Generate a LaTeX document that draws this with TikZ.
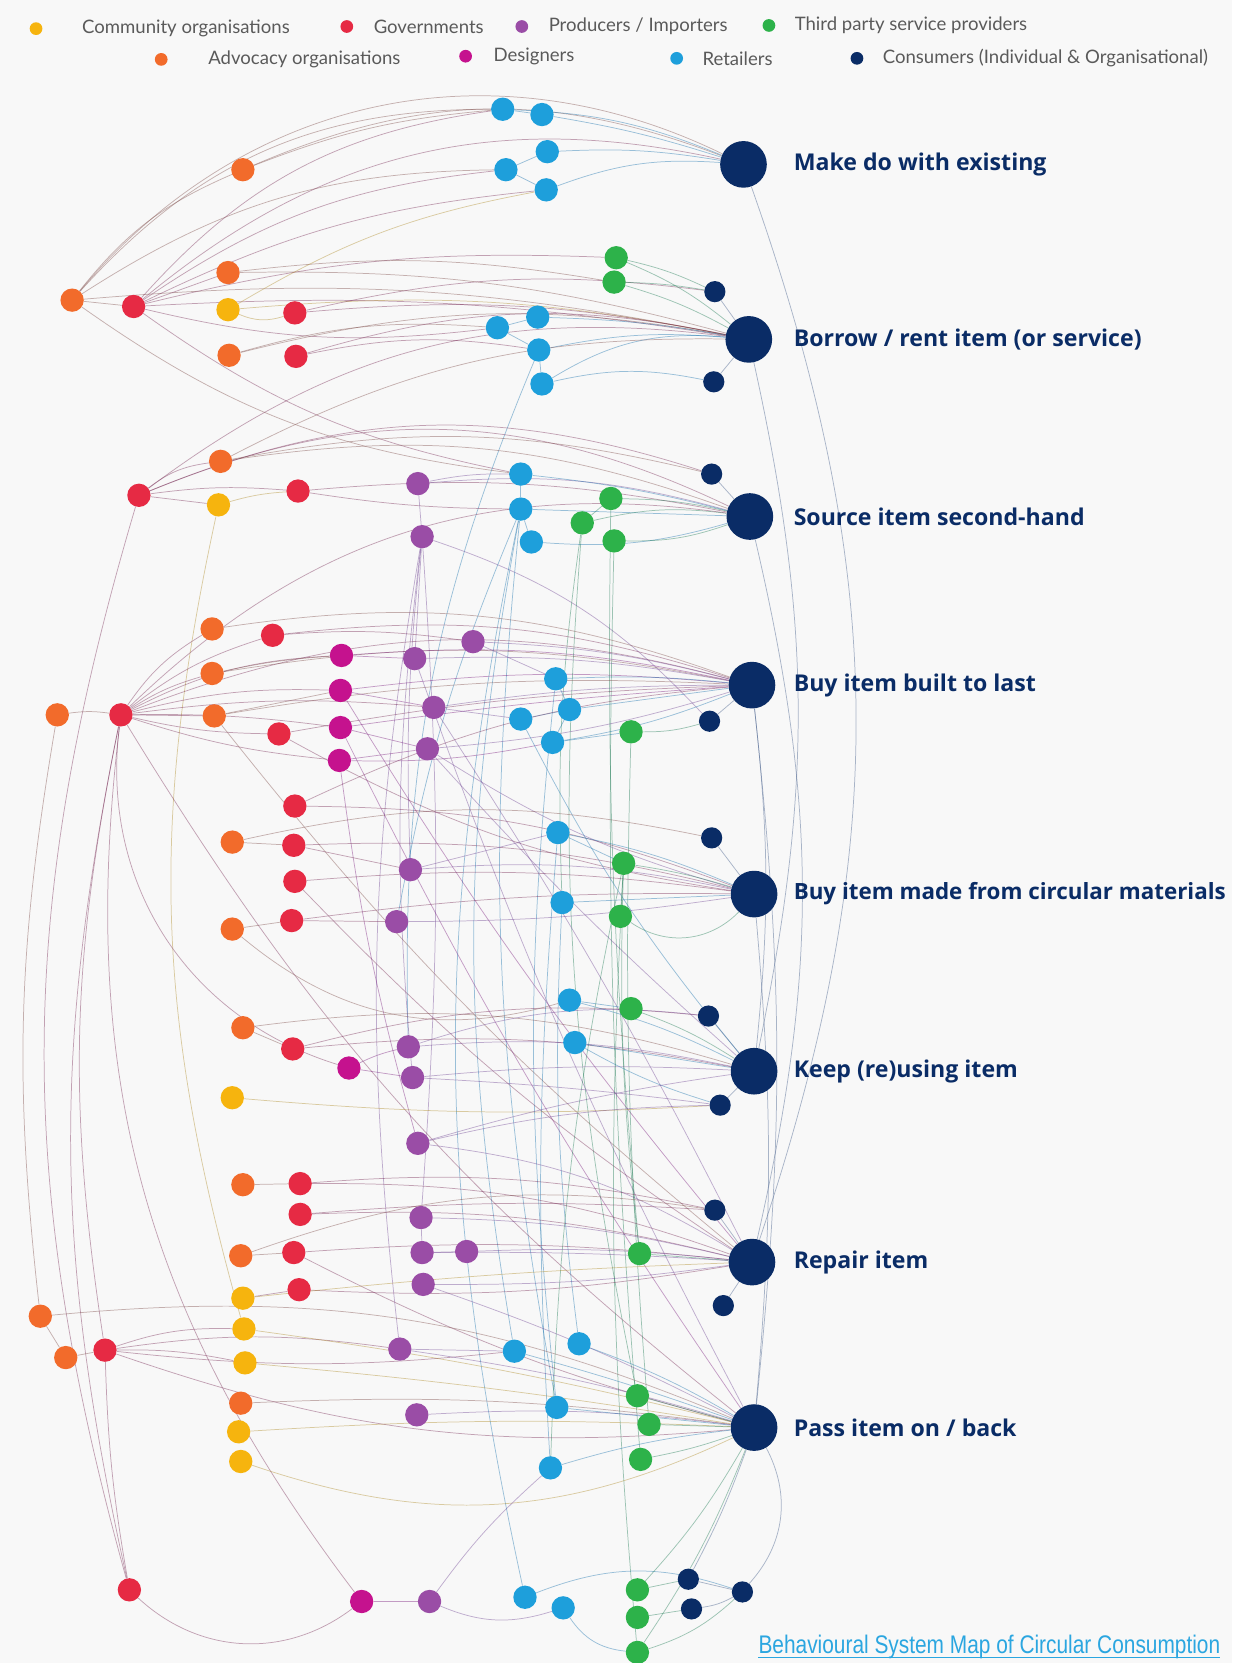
\documentclass[tikz,border=0pt]{standalone}
\usepackage{fontspec}
\usepackage{tikz}
\usetikzlibrary{positioning}
\newfontfamily\legendfont{Lato}
\newfontfamily\behfont{Open Sans}
\newfontfamily\footfont{Liberation Sans}[FakeStretch=0.82]
\definecolor{comc}{HTML}{F6B40E}
\definecolor{govc}{HTML}{E62A44}
\definecolor{proc}{HTML}{9A4DA6}
\definecolor{tpsc}{HTML}{2DB24A}
\definecolor{advc}{HTML}{F26B2B}
\definecolor{desc}{HTML}{C5128E}
\definecolor{retc}{HTML}{1E9FDB}
\definecolor{conc}{HTML}{0A2C66}
\definecolor{paperc}{HTML}{F8F8F8}
\definecolor{textc}{HTML}{5A5A5A}
\definecolor{footc}{HTML}{2BA6E0}
\tikzstyle{actor}=[shape=circle,minimum size=22pt,inner sep=0pt]
\tikzstyle{adv_node}=[actor,fill=advc]
\tikzstyle{gov_node}=[actor,fill=govc]
\tikzstyle{com_node}=[actor,fill=comc]
\tikzstyle{pro_node}=[actor,fill=proc]
\tikzstyle{des_node}=[actor,fill=desc]
\tikzstyle{ret_node}=[actor,fill=retc]
\tikzstyle{tps_node}=[actor,fill=tpsc]
\tikzstyle{con_node}=[actor,fill=conc,minimum size=20pt]
\tikzstyle{behave}=[shape=circle,fill=conc,minimum size=44pt,inner sep=0pt]
\tikzstyle{behave_text}=[text=conc,inner sep=0pt,font=\behfont\bfseries\fontsize{21.8}{25}\selectfont]
\tikzstyle{key_dot}=[shape=circle,minimum size=12pt,inner sep=0pt]
\tikzstyle{key_text}=[text=textc,inner sep=0pt,font=\legendfont\fontsize{17.5}{20}\selectfont]
\tikzstyle{link}=[line width=0.7pt,draw opacity=0.42,bend left=12]
\tikzstyle{adv_edge}=[link,draw=advc!50!conc]
\tikzstyle{gov_edge}=[link,draw=govc!50!conc]
\tikzstyle{com_edge}=[link,draw=comc!70!conc]
\tikzstyle{pro_edge}=[link,draw=proc!70!conc]
\tikzstyle{des_edge}=[link,draw=desc!60!conc]
\tikzstyle{ret_edge}=[link,draw=retc!60!conc]
\tikzstyle{tps_edge}=[link,draw=tpsc!60!conc]
\tikzstyle{con_edge}=[link,draw=conc!80!white]
\pgfdeclarelayer{paper}
\pgfdeclarelayer{links}
\pgfsetlayers{paper,links,main}
\begin{document}
\begin{tikzpicture}[x=1pt,y=-1pt]
\useasboundingbox (0,0) rectangle (1162,1568);
\begin{pgfonlayer}{paper}
\fill[paperc] (0,0) rectangle (1162,1568);
\end{pgfonlayer}

% legend
\node[key_dot,fill=comc] (k_com) at (34,27) {};
\node[key_text,right=37pt of k_com] (k_com_t) {Community organisations};
\node[key_dot,fill=govc] (k_gov) at (327,25) {};
\node[key_text,right=19pt of k_gov] (k_gov_t) {Governments};
\node[key_dot,fill=proc] (k_pro) at (492,25) {};
\node[key_text,right=19pt of k_pro] (k_pro_t) {Producers / Importers};
\node[key_dot,fill=tpsc] (k_tps) at (725,24) {};
\node[key_text,right=18pt of k_tps] (k_tps_t) {Third party service providers};
\node[key_dot,fill=advc] (k_adv) at (152,56) {};
\node[key_text,right=38pt of k_adv] (k_adv_t) {Advocacy organisations};
\node[key_dot,fill=desc] (k_des) at (439,53) {};
\node[key_text,right=20pt of k_des] (k_des_t) {Designers};
\node[key_dot,fill=retc] (k_ret) at (638,55) {};
\node[key_text,right=18pt of k_ret] (k_ret_t) {Retailers};
\node[key_dot,fill=conc] (k_con) at (808,55) {};
\node[key_text,right=18pt of k_con] (k_con_t) {Consumers (Individual \& Organisational)};

% behaviours
\node[behave] (make)   at (701,155) {};
\node[behave] (borrow) at (706,320) {};
\node[behave] (source) at (707,487) {};
\node[behave] (last)   at (709,646) {};
\node[behave] (circ)   at (711,843) {};
\node[behave] (keep)   at (711,1010) {};
\node[behave] (repair) at (709,1190) {};
\node[behave] (pass)   at (711,1346) {};
\node[behave_text,right=25pt of make]   (make_t)   {Make do with existing};
\node[behave_text,right=20pt of borrow] (borrow_t) {Borrow / rent item (or service)};
\node[behave_text,right=19pt of source] (source_t) {Source item second-hand};
\node[behave_text,right=17pt of last]   (last_t)   {Buy item built to last};
\node[behave_text,right=15pt of circ,font=\behfont\bfseries\fontsize{21.1}{25}\selectfont] (circ_t) {Buy item made from circular materials};
\node[behave_text,right=15pt of keep]   (keep_t)   {Keep (re)using item};
\node[behave_text,right=17pt of repair] (repair_t) {Repair item};
\node[behave_text,right=15pt of pass]   (pass_t)   {Pass item on / back};

% advocacy organisations
\node[adv_node] (adv1)  at (229,160) {};
\node[adv_node] (adv2)  at (68,283) {};
\node[adv_node] (adv3)  at (215,257) {};
\node[adv_node] (adv4)  at (216,335) {};
\node[adv_node] (adv5)  at (208,435) {};
\node[adv_node] (adv6)  at (200,593) {};
\node[adv_node] (adv7)  at (200,635) {};
\node[adv_node] (adv8)  at (54,674) {};
\node[adv_node] (adv9)  at (202,675) {};
\node[adv_node] (adv10) at (219,794) {};
\node[adv_node] (adv11) at (219,876) {};
\node[adv_node] (adv12) at (229,969) {};
\node[adv_node] (adv13) at (229,1117) {};
\node[adv_node] (adv14) at (227,1184) {};
\node[adv_node] (adv15) at (38,1241) {};
\node[adv_node] (adv16) at (62,1280) {};
\node[adv_node] (adv17) at (227,1323) {};

% governments
\node[gov_node] (gov1)  at (126,289) {};
\node[gov_node] (gov2)  at (278,295) {};
\node[gov_node] (gov3)  at (279,336) {};
\node[gov_node] (gov4)  at (131,467) {};
\node[gov_node] (gov5)  at (281,463) {};
\node[gov_node] (gov6)  at (257,599) {};
\node[gov_node] (gov7)  at (114,674) {};
\node[gov_node] (gov8)  at (263,692) {};
\node[gov_node] (gov9)  at (278,760) {};
\node[gov_node] (gov10) at (277,797) {};
\node[gov_node] (gov11) at (278,831) {};
\node[gov_node] (gov12) at (275,868) {};
\node[gov_node] (gov13) at (276,989) {};
\node[gov_node] (gov14) at (283,1116) {};
\node[gov_node] (gov15) at (283,1145) {};
\node[gov_node] (gov16) at (277,1181) {};
\node[gov_node] (gov17) at (282,1216) {};
\node[gov_node] (gov18) at (99,1273) {};
\node[gov_node] (gov19) at (122,1499) {};

% community organisations
\node[com_node] (com1) at (215,292) {};
\node[com_node] (com2) at (206,476) {};
\node[com_node] (com3) at (219,1035) {};
\node[com_node] (com4) at (229,1224) {};
\node[com_node] (com5) at (230,1253) {};
\node[com_node] (com6) at (231,1285) {};
\node[com_node] (com7) at (225,1350) {};
\node[com_node] (com8) at (227,1378) {};

% producers / importers
\node[pro_node] (pro1)  at (394,456) {};
\node[pro_node] (pro2)  at (398,506) {};
\node[pro_node] (pro3)  at (446,605) {};
\node[pro_node] (pro4)  at (391,621) {};
\node[pro_node] (pro5)  at (409,667) {};
\node[pro_node] (pro6)  at (403,706) {};
\node[pro_node] (pro7)  at (387,820) {};
\node[pro_node] (pro8)  at (374,869) {};
\node[pro_node] (pro9)  at (385,987) {};
\node[pro_node] (pro10) at (389,1016) {};
\node[pro_node] (pro11) at (394,1078) {};
\node[pro_node] (pro12) at (397,1148) {};
\node[pro_node] (pro13) at (398,1181) {};
\node[pro_node] (pro14) at (440,1180) {};
\node[pro_node] (pro15) at (399,1211) {};
\node[pro_node] (pro16) at (377,1272) {};
\node[pro_node] (pro17) at (393,1334) {};
\node[pro_node] (pro18) at (405,1510) {};

% designers
\node[des_node] (des1) at (322,618) {};
\node[des_node] (des2) at (321,651) {};
\node[des_node] (des3) at (321,686) {};
\node[des_node] (des4) at (320,717) {};
\node[des_node] (des5) at (329,1007) {};
\node[des_node] (des6) at (341,1510) {};

% retailers
\node[ret_node] (ret1)  at (474,103) {};
\node[ret_node] (ret2)  at (511,108) {};
\node[ret_node] (ret3)  at (516,143) {};
\node[ret_node] (ret4)  at (477,160) {};
\node[ret_node] (ret5)  at (515,179) {};
\node[ret_node] (ret6)  at (469,309) {};
\node[ret_node] (ret7)  at (507,299) {};
\node[ret_node] (ret8)  at (508,330) {};
\node[ret_node] (ret9)  at (511,362) {};
\node[ret_node] (ret10) at (491,447) {};
\node[ret_node] (ret11) at (491,480) {};
\node[ret_node] (ret12) at (501,511) {};
\node[ret_node] (ret13) at (524,640) {};
\node[ret_node] (ret14) at (537,669) {};
\node[ret_node] (ret15) at (491,678) {};
\node[ret_node] (ret16) at (521,700) {};
\node[ret_node] (ret17) at (526,785) {};
\node[ret_node] (ret18) at (530,851) {};
\node[ret_node] (ret19) at (537,943) {};
\node[ret_node] (ret20) at (542,983) {};
\node[ret_node] (ret21) at (485,1274) {};
\node[ret_node] (ret22) at (546,1267) {};
\node[ret_node] (ret23) at (525,1327) {};
\node[ret_node] (ret24) at (519,1384) {};
\node[ret_node] (ret25) at (495,1506) {};
\node[ret_node] (ret26) at (531,1516) {};

% third party service providers
\node[tps_node] (tps1)  at (581,243) {};
\node[tps_node] (tps2)  at (579,266) {};
\node[tps_node] (tps3)  at (576,470) {};
\node[tps_node] (tps4)  at (549,493) {};
\node[tps_node] (tps5)  at (579,510) {};
\node[tps_node] (tps6)  at (595,690) {};
\node[tps_node] (tps7)  at (588,814) {};
\node[tps_node] (tps8)  at (585,864) {};
\node[tps_node] (tps9)  at (595,951) {};
\node[tps_node] (tps10) at (603,1182) {};
\node[tps_node] (tps11) at (601,1316) {};
\node[tps_node] (tps12) at (612,1343) {};
\node[tps_node] (tps13) at (604,1376) {};
\node[tps_node] (tps14) at (601,1499) {};
\node[tps_node] (tps15) at (601,1525) {};
\node[tps_node] (tps16) at (601,1558) {};

% consumers
\node[con_node] (con1)  at (674,275) {};
\node[con_node] (con2)  at (673,360) {};
\node[con_node] (con3)  at (671,447) {};
\node[con_node] (con4)  at (669,680) {};
\node[con_node] (con5)  at (671,790) {};
\node[con_node] (con6)  at (668,958) {};
\node[con_node] (con7)  at (679,1042) {};
\node[con_node] (con8)  at (674,1141) {};
\node[con_node] (con9)  at (682,1231) {};
\node[con_node] (con10) at (649,1489) {};
\node[con_node] (con11) at (652,1517) {};
\node[con_node] (con12) at (700,1501) {};

% footer
\node[text=footc,inner sep=0pt,anchor=west,font=\footfont\fontsize{24}{27}\selectfont] (foot) at (715,1553) {Behavioural System Map of Circular Consumption};
\draw[footc,line width=1pt] ([yshift=2pt]foot.south west) -- ([yshift=2pt]foot.south east);

\begin{pgfonlayer}{links}
% top block
\path (adv2) edge[adv_edge,bend left=0] (gov1) edge[adv_edge,bend left=14] (adv1) edge[adv_edge,bend left=38] (make)
  edge[adv_edge,bend left=24] (ret1) edge[adv_edge,bend left=16] (ret4) edge[adv_edge,bend left=8] (borrow)
  edge[adv_edge,bend right=14] (ret10);
\path (adv1) edge[adv_edge,bend left=22] (make) edge[adv_edge,bend left=8] (ret1);
\path (gov1) edge[gov_edge,bend left=26] (make) edge[gov_edge,bend left=20] (ret1) edge[gov_edge,bend left=14] (ret4)
  edge[gov_edge,bend left=10] (ret5) edge[gov_edge,bend left=8] (tps1) edge[gov_edge,bend left=6] (borrow)
  edge[gov_edge,bend left=0] (adv3) edge[gov_edge,bend right=12] (ret10) edge[gov_edge,bend right=10] (ret6);
\path (adv3) edge[adv_edge,bend left=8] (tps2) edge[adv_edge,bend left=8] (borrow);
\path (com1) edge[com_edge,bend right=20] (gov2) edge[com_edge,bend left=8] (borrow) edge[com_edge,bend left=10] (ret5);
\path (gov2) edge[gov_edge,bend left=8] (borrow) edge[gov_edge,bend left=10] (con1);
\path (adv4) edge[adv_edge,bend left=12] (borrow) edge[adv_edge,bend left=10] (ret6);
\path (gov3) edge[gov_edge,bend left=14] (borrow) edge[gov_edge,bend left=10] (ret8);
\path (ret1) edge[ret_edge,bend left=0] (ret2) edge[ret_edge,bend left=10] (make);
\path (ret2) edge[ret_edge,bend left=4] (make);
\path (ret3) edge[ret_edge,bend left=6] (make);
\path (ret4) edge[ret_edge,bend left=0] (ret3) edge[ret_edge,bend left=0] (ret5);
\path (ret5) edge[ret_edge,bend left=12] (make);
\path (tps1) edge[tps_edge,bend left=6] (con1) edge[tps_edge,bend left=8] (borrow);
\path (tps2) edge[tps_edge,bend left=4] (con1) edge[tps_edge,bend left=6] (borrow);
\path (con1) edge[con_edge,bend left=0] (borrow);
\path (con2) edge[con_edge,bend left=0] (borrow);
\path (ret6) edge[ret_edge,bend left=0] (ret7) edge[ret_edge,bend left=0] (ret8);
\path (ret7) edge[ret_edge,bend left=4] (borrow);
\path (ret8) edge[ret_edge,bend left=0] (ret9) edge[ret_edge,bend left=8] (borrow) edge[ret_edge,bend right=12] (pro9);
\path (ret9) edge[ret_edge,bend left=18] (borrow) edge[ret_edge,bend left=12] (con2);

% second-hand block
\path (gov4) edge[gov_edge,bend left=15] (adv5) edge[gov_edge,bend left=0] (com2) edge[gov_edge,bend left=6] (gov5)
  edge[gov_edge,bend left=24] (source) edge[gov_edge,bend left=22] (borrow) edge[gov_edge,bend left=20] (con3)
  edge[gov_edge,bend right=16] (gov19);
\path (adv5) edge[adv_edge,bend left=14] (source) edge[adv_edge,bend left=12] (con3) edge[adv_edge,bend left=14] (borrow);
\path (com2) edge[com_edge,bend right=14] (com5) edge[com_edge,bend left=6] (gov5);
\path (gov5) edge[gov_edge,bend left=8] (source) edge[gov_edge,bend right=4] (ret11);
\path (pro1) edge[pro_edge,bend left=10] (source) edge[pro_edge,bend left=6] (ret10) edge[pro_edge,bend left=0] (pro2);
\path (pro2) edge[pro_edge,bend left=0] (pro4) edge[pro_edge,bend right=4] (pro7) edge[pro_edge,bend right=6] (pro10)
  edge[pro_edge,bend left=4] (pro12) edge[pro_edge,bend right=8] (pro16) edge[pro_edge,bend left=14] (con4);
\path (ret10) edge[ret_edge,bend left=4] (source) edge[ret_edge,bend left=0] (ret11);
\path (ret11) edge[ret_edge,bend left=0] (source) edge[ret_edge,bend left=0] (ret12) edge[ret_edge,bend right=10] (ret21)
  edge[ret_edge,bend right=8] (ret23) edge[ret_edge,bend right=12] (ret25) edge[ret_edge,bend right=6] (pro8);
\path (ret12) edge[ret_edge,bend right=10] (source);
\path (tps3) edge[tps_edge,bend left=6] (source) edge[tps_edge,bend left=0] (tps4) edge[tps_edge,bend right=3] (tps10);
\path (tps4) edge[tps_edge,bend left=10] (source) edge[tps_edge,bend right=8] (tps11) edge[tps_edge,bend right=5] (ret18);
\path (tps5) edge[tps_edge,bend right=10] (source) edge[tps_edge,bend right=3] (tps13);
\path (con3) edge[con_edge,bend left=0] (source);

% built-to-last block
\path (adv8) edge[adv_edge,bend left=8] (gov7) edge[adv_edge,bend right=8] (adv15);
\path (gov7) edge[gov_edge,bend left=12] (adv6) edge[gov_edge,bend left=8] (adv7) edge[gov_edge,bend left=0] (adv9)
  edge[gov_edge,bend right=6] (gov8) edge[gov_edge,bend left=10] (gov6) edge[gov_edge,bend left=12] (des1)
  edge[gov_edge,bend left=8] (des2) edge[gov_edge,bend left=4] (des3) edge[gov_edge,bend right=6] (des4)
  edge[gov_edge,bend left=6] (pro5) edge[gov_edge,bend left=18] (last) edge[gov_edge,bend left=26] (source)
  edge[gov_edge,bend right=12] (gov19) edge[gov_edge,bend right=10] (gov18) edge[gov_edge,bend right=40] (des5)
  edge[gov_edge,bend right=22] (des6) edge[gov_edge,bend right=10] (pass);
\path (adv6) edge[adv_edge,bend left=14] (last);
\path (gov6) edge[gov_edge,bend left=12] (last) edge[gov_edge,bend left=6] (pro3);
\path (adv7) edge[adv_edge,bend left=10] (last) edge[adv_edge,bend left=4] (des1);
\path (adv9) edge[adv_edge,bend left=6] (last) edge[adv_edge,bend left=0] (des2) edge[adv_edge,bend right=6] (repair);
\path (gov8) edge[gov_edge,bend left=4] (last) edge[gov_edge,bend right=10] (circ);
\path (des1) edge[des_edge,bend left=0] (pro4) edge[des_edge,bend left=8] (last);
\path (des2) edge[des_edge,bend left=0] (pro5) edge[des_edge,bend left=6] (last) edge[des_edge,bend right=4] (repair);
\path (des3) edge[des_edge,bend left=0] (pro6) edge[des_edge,bend left=2] (last) edge[des_edge,bend right=4] (pass);
\path (des4) edge[des_edge,bend left=0] (pro6) edge[des_edge,bend right=6] (ret16) edge[des_edge,bend right=4] (pro11);
\path (pro3) edge[pro_edge,bend left=6] (last) edge[pro_edge,bend left=0] (ret13);
\path (pro4) edge[pro_edge,bend left=6] (last) edge[pro_edge,bend right=4] (pass);
\path (pro5) edge[pro_edge,bend left=0] (ret15) edge[pro_edge,bend left=4] (last) edge[pro_edge,bend left=3] (repair);
\path (pro6) edge[pro_edge,bend right=6] (last) edge[pro_edge,bend right=8] (circ) edge[pro_edge,bend right=3] (keep);
\path (ret13) edge[ret_edge,bend left=4] (last) edge[ret_edge,bend left=0] (ret14) edge[ret_edge,bend right=6] (ret23);
\path (ret14) edge[ret_edge,bend left=0] (last) edge[ret_edge,bend left=0] (ret16);
\path (ret15) edge[ret_edge,bend left=0] (ret14) edge[ret_edge,bend right=6] (keep);
\path (ret16) edge[ret_edge,bend right=6] (last) edge[ret_edge,bend left=0] (tps6);
\path (tps6) edge[tps_edge,bend right=8] (con4) edge[tps_edge,bend right=3] (tps12);
\path (con4) edge[con_edge,bend left=0] (last);

% circular materials block
\path (gov9) edge[gov_edge,bend left=10] (circ) edge[gov_edge,bend left=10] (last);
\path (adv10) edge[adv_edge,bend left=0] (gov10) edge[adv_edge,bend left=12] (con5);
\path (gov10) edge[gov_edge,bend left=8] (circ) edge[gov_edge,bend left=0] (pro7);
\path (gov11) edge[gov_edge,bend left=6] (circ) edge[gov_edge,bend right=6] (repair);
\path (adv11) edge[adv_edge,bend left=0] (gov12) edge[adv_edge,bend right=28] (ret19);
\path (gov12) edge[gov_edge,bend left=4] (circ) edge[gov_edge,bend left=0] (pro8);
\path (pro7) edge[pro_edge,bend left=8] (circ) edge[pro_edge,bend left=0] (ret17);
\path (pro8) edge[pro_edge,bend right=4] (circ);
\path (ret17) edge[ret_edge,bend left=6] (circ) edge[ret_edge,bend left=0] (tps7) edge[ret_edge,bend right=4] (ret24);
\path (ret18) edge[ret_edge,bend left=0] (circ) edge[ret_edge,bend right=5] (ret22);
\path (tps7) edge[tps_edge,bend left=4] (circ) edge[tps_edge,bend left=0] (tps8) edge[tps_edge,bend right=4] (tps10)
  edge[tps_edge,bend right=5] (ret24) edge[tps_edge,bend right=4] (tps16);
\path (tps8) edge[tps_edge,bend right=40] (circ);
\path (con5) edge[con_edge,bend left=0] (circ);

% keep block
\path (adv12) edge[adv_edge,bend left=12] (keep) edge[adv_edge,bend left=0] (gov13);
\path (gov13) edge[gov_edge,bend left=8] (keep) edge[gov_edge,bend left=10] (con6);
\path (des5) edge[des_edge,bend left=0] (pro10) edge[des_edge,bend left=6] (pro9);
\path (pro9) edge[pro_edge,bend left=8] (keep) edge[pro_edge,bend left=12] (con6);
\path (pro10) edge[pro_edge,bend left=2] (con7) edge[pro_edge,bend left=4] (keep);
\path (com3) edge[com_edge,bend right=4] (con7);
\path (ret19) edge[ret_edge,bend left=0] (tps9) edge[ret_edge,bend left=6] (keep);
\path (ret20) edge[ret_edge,bend right=6] (con7) edge[ret_edge,bend left=0] (keep);
\path (tps9) edge[tps_edge,bend left=6] (keep);
\path (con6) edge[con_edge,bend left=0] (keep);
\path (con7) edge[con_edge,bend left=0] (keep);

% repair block
\path (pro11) edge[pro_edge,bend left=12] (repair) edge[pro_edge,bend left=6] (con7) edge[pro_edge,bend left=4] (keep);
\path (adv13) edge[adv_edge,bend left=0] (gov14);
\path (gov14) edge[gov_edge,bend left=10] (repair) edge[gov_edge,bend left=8] (con8);
\path (gov15) edge[gov_edge,bend left=8] (repair) edge[gov_edge,bend left=4] (con8);
\path (pro12) edge[pro_edge,bend left=6] (repair) edge[pro_edge,bend left=0] (pro13);
\path (adv14) edge[adv_edge,bend left=0] (gov16) edge[adv_edge,bend left=14] (con8);
\path (gov16) edge[gov_edge,bend left=5] (repair) edge[gov_edge,bend right=6] (pass);
\path (pro13) edge[pro_edge,bend left=2] (repair);
\path (pro14) edge[pro_edge,bend left=4] (repair) edge[pro_edge,bend left=0] (pro13);
\path (pro15) edge[pro_edge,bend right=4] (repair) edge[pro_edge,bend left=4] (pass);
\path (gov17) edge[gov_edge,bend right=6] (repair) edge[gov_edge,bend left=0] (com4);
\path (com4) edge[com_edge,bend left=2] (repair);
\path (tps10) edge[tps_edge,bend left=0] (repair);
\path (con8) edge[con_edge,bend left=0] (repair);
\path (con9) edge[con_edge,bend left=0] (repair);

% pass block
\path (adv15) edge[adv_edge,bend left=0] (adv16) edge[adv_edge,bend left=14] (pass);
\path (adv16) edge[adv_edge,bend left=0] (gov18);
\path (gov18) edge[gov_edge,bend left=10] (com5) edge[gov_edge,bend left=6] (com6) edge[gov_edge,bend left=8] (pro16)
  edge[gov_edge,bend right=6] (ret21) edge[gov_edge,bend right=12] (pass) edge[gov_edge,bend right=4] (gov19);
\path (com5) edge[com_edge,bend left=3] (pass);
\path (com6) edge[com_edge,bend left=2] (pass);
\path (adv17) edge[adv_edge,bend left=5] (pass);
\path (com7) edge[com_edge,bend left=3] (pass);
\path (com8) edge[com_edge,bend right=22] (pass);
\path (pro16) edge[pro_edge,bend left=0] (ret21) edge[pro_edge,bend left=4] (pass);
\path (pro17) edge[pro_edge,bend left=5] (pass);
\path (ret21) edge[ret_edge,bend left=2] (pass);
\path (ret22) edge[ret_edge,bend left=5] (pass);
\path (ret23) edge[ret_edge,bend left=0] (pass);
\path (ret24) edge[ret_edge,bend left=5] (pass);
\path (tps11) edge[tps_edge,bend left=0] (pass);
\path (tps12) edge[tps_edge,bend left=0] (pass);
\path (tps13) edge[tps_edge,bend right=4] (pass);

% bottom row
\path (gov19) edge[gov_edge,bend right=40] (des6);
\path (des6) edge[des_edge,bend left=0] (pro18);
\path (pro18) edge[pro_edge,bend right=20] (ret26) edge[pro_edge,bend left=6] (ret24);
\path (ret25) edge[ret_edge,bend left=20] (con12);
\path (ret26) edge[ret_edge,bend right=25] (tps16);
\path (tps14) edge[tps_edge,bend left=0] (con10) edge[tps_edge,bend right=6] (pass);
\path (tps15) edge[tps_edge,bend left=0] (con11);
\path (tps16) edge[tps_edge,bend right=12] (con12) edge[tps_edge,bend right=6] (pass);
\path (con10) edge[con_edge,bend left=0] (con12) edge[con_edge,bend right=4] (pass);
\path (con11) edge[con_edge,bend right=10] (con12);
\path (con12) edge[con_edge,bend right=35] (pass);

% behaviour to behaviour
\path (make) edge[con_edge,bend left=19] (repair);
\path (borrow) edge[con_edge,bend left=12] (keep);
\path (source) edge[con_edge,bend left=13] (repair);
\path (last) edge[con_edge,bend left=6] (keep) edge[con_edge,bend left=6] (pass);
\path (circ) edge[con_edge,bend left=5] (pass);
\end{pgfonlayer}
\end{tikzpicture}
\end{document}
